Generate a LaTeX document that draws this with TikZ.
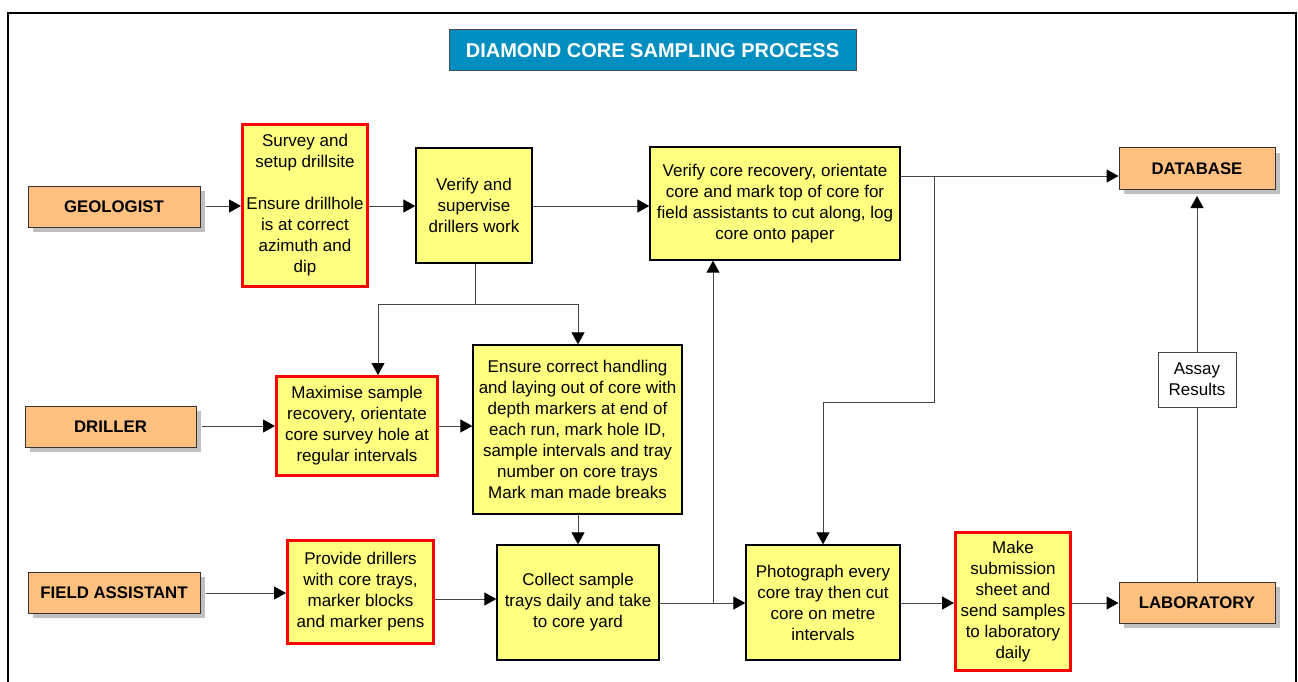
\documentclass[tikz,border=0pt]{standalone}
\usepackage{fontspec}
\setmainfont{Liberation Sans}
\usetikzlibrary{arrows.meta,shadows,calc}
\definecolor{boxyellow}{RGB}{255,255,128}
\definecolor{rolepeach}{RGB}{255,192,128}
\definecolor{shadowgray}{RGB}{192,192,192}
\definecolor{titleblue}{RGB}{0,143,192}
\definecolor{linegray}{RGB}{70,70,70}
\begin{document}
\begin{tikzpicture}[x=1pt,y=-1pt,
  every node/.style={font=\fontsize{17}{21}\selectfont, align=center, inner sep=0pt},
  ybox/.style={draw=black, line width=1.3pt, fill=boxyellow},
  rbox/.style={draw=red, line width=3pt, fill=boxyellow},
  role/.style={draw=black!80, line width=1pt, fill=rolepeach, font=\fontsize{16.8}{20}\selectfont\bfseries,
     drop shadow={shadow xshift=5pt, shadow yshift=-5pt, fill=shadowgray, opacity=1}},
  conn/.style={draw=linegray, line width=1pt},
  arr/.style={conn, -{Triangle[length=12pt,width=13pt,color=black,fill=black]}}]
\useasboundingbox (0,0) rectangle (1298,682);
\draw[line width=1.3pt] (8,13) rectangle (1296,700);
% title
\node[fill=titleblue, draw=black!70, line width=1pt, text=white, font=\fontsize{20}{24}\selectfont\bfseries,
  minimum width=407, minimum height=41] (title) at (652.5,50.5) {DIAMOND CORE SAMPLING PROCESS};
% role boxes
\node[role, minimum width=172, minimum height=41] (geo) at (114,206.5) {GEOLOGIST};
\node[role, minimum width=171, minimum height=41] (drl) at (110.5,426.5) {DRILLER};
\node[role, minimum width=172, minimum height=41] (fa) at (114,592.5) {FIELD ASSISTANT};
\node[role, minimum width=156, minimum height=41] (db) at (1197,168.5) {DATABASE};
\node[role, minimum width=156, minimum height=41] (lab) at (1197,602.5) {LABORATORY};
% process boxes
\node[rbox, minimum width=125, minimum height=162] (srv) at (305,205.5)
  {Survey and\\setup drillsite\\[21pt]Ensure drillhole\\is at correct\\azimuth and\\dip};
\node[ybox, minimum width=116, minimum height=115] (sup) at (474,205.5)
  {Verify and\\supervise\\drillers work};
\node[ybox, minimum width=250, minimum height=113] (rec) at (775,203.5)
  {Verify core recovery, orientate\\core and mark top of core for\\field assistants to cut along, log\\core onto paper};
\node[rbox, minimum width=161, minimum height=99] (max) at (357,426)
  {Maximise sample\\recovery, orientate\\core survey hole at\\regular intervals};
\node[ybox, minimum width=209, minimum height=169] (ens) at (577.5,429.5)
  {Ensure correct handling\\and laying out of core with\\depth markers at end of\\each run, mark hole ID,\\sample intervals and tray\\number on core trays\\Mark man made breaks};
\node[rbox, minimum width=146, minimum height=103] (prv) at (360.5,592)
  {Provide drillers\\with core trays,\\marker blocks\\and marker pens};
\node[ybox, minimum width=162, minimum height=115] (col) at (578,602.5)
  {Collect sample\\trays daily and take\\to core yard};
\node[ybox, minimum width=154, minimum height=115] (pho) at (823,602.5)
  {Photograph every\\core tray then cut\\core on metre\\intervals};
\node[rbox, minimum width=115, minimum height=138] (mk) at (1013,601.5)
  {Make\\submission\\sheet and\\send samples\\to laboratory\\daily};
\node[draw=linegray, line width=1pt, fill=white, minimum width=78, minimum height=55] (assay) at (1197,379.5)
  {Assay\\Results};
% junction coordinates
\coordinate (j1) at (934,176);
\coordinate (j2) at (934,402);
\coordinate (j3) at (823,402);
\coordinate (s1) at (475,304);
\coordinate (s2) at (378,304);
\coordinate (s3) at (578,304);
\coordinate (c1) at (713,603);
\coordinate (dbb) at (1197,196);
% connectors
\draw[arr] ([xshift=5pt]geo.east |- 0,206) -- (srv.west |- 0,206);
\draw[arr] (srv.east |- 0,206) -- (sup.west |- 0,206);
\draw[arr] (sup.east |- 0,206) -- (rec.west |- 0,206);
\draw[arr] (j1 -| rec.east) -- (j1 -| db.west);
\draw[arr] (j1) -- (j2) -- (j3) -- (pho.north);
\draw[conn] (sup.south -| s1) -- (s1);
\draw[conn] (s2) -- (s3);
\draw[arr] (s2) -- (s2 |- max.north);
\draw[arr] (s3) -- (s3 |- ens.north);
\draw[arr] ([xshift=5pt]drl.east |- 0,426) -- (max.west |- 0,426);
\draw[arr] (max.east |- 0,426) -- (ens.west |- 0,426);
\draw[arr] (ens.south -| s3) -- (col.north -| s3);
\draw[arr] ([xshift=5pt]fa.east |- 0,593) -- (prv.west |- 0,593);
\draw[arr] (prv.east |- 0,599) -- (col.west |- 0,599);
\draw[arr] (col.east |- c1) -- (pho.west |- c1);
\draw[arr] (c1) -- (c1 |- rec.south);
\draw[arr] (pho.east |- c1) -- (mk.west |- c1);
\draw[arr] (mk.east |- c1) -- (lab.west |- c1);
\draw[conn] (lab.north) -- (assay.south);
\draw[arr] (assay.north) -- (dbb);
\end{tikzpicture}
\end{document}
